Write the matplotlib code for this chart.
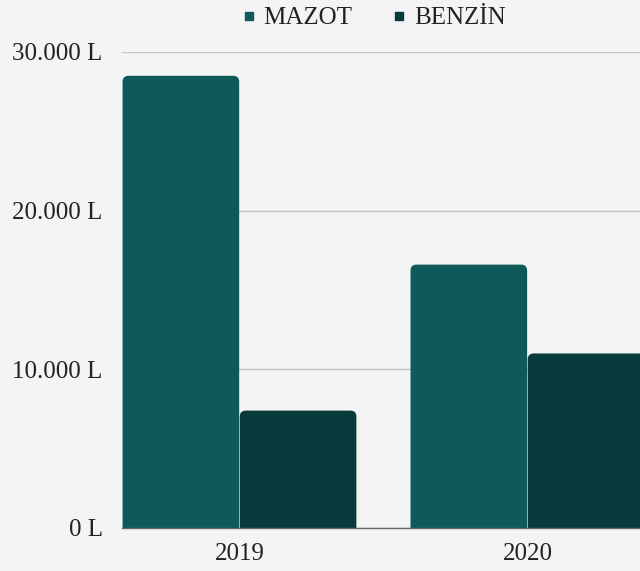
import matplotlib.pyplot as plt
from matplotlib.patches import FancyBboxPatch
from matplotlib.lines import Line2D
from matplotlib.ticker import FuncFormatter
import numpy as np

# yakıt tüketimi (litre)
yillar = ['2019', '2020']
mazot = [28500, 16600]
benzin = [7400, 11000]
seriler = ['MAZOT', 'BENZİN']
renkler = ['#0e5a5a', '#073b3b']
y_ticks = [0, 10000, 20000, 30000]

arka = '#f4f4f4'
yazi = '#222222'
plt.rcParams['font.family'] = ['Liberation Serif', 'DejaVu Serif']

fig = plt.figure(figsize=(6.4, 5.71), dpi=100, facecolor=arka)
ax = fig.add_axes([122 / 640, 1 - 528 / 571, 1 - 122 / 640, (528 - 52) / 571])
ax.set_facecolor(arka)

x = np.arange(len(yillar))
w = 0.405
ax.set_xlim(-0.408, 1.391)
ax.set_ylim(0, 30000)

# köşeleri yuvarlatmak için piksel başına veri oranı
px_x = (1.391 + 0.408) / (640 - 122)
px_y = 30000 / (528 - 52)
yaricap = 6 * px_x
oran = px_y / px_x

for i, (degerler, renk) in enumerate(zip([mazot, benzin], renkler)):
    bars = ax.bar(x + (i - 0.5) * (w + 0.002), degerler, w, color=renk, zorder=3)
    for b in bars:
        bx, by = b.get_x(), b.get_y()
        bw, bh = b.get_width(), b.get_height()
        b.remove()
        ax.add_patch(FancyBboxPatch((bx, by - 2000), bw, bh + 2000,
                                    boxstyle=f"round,pad=0,rounding_size={yaricap}",
                                    mutation_aspect=oran, facecolor=renk,
                                    edgecolor='none', zorder=3))

ax.set_yticks(y_ticks)
ax.yaxis.set_major_formatter(FuncFormatter(lambda v, p: f"{v:,.0f} L".replace(',', '.')))
ax.set_xticks(x)
ax.set_xticklabels(yillar)
ax.tick_params(axis='both', length=0, labelsize=18, colors=yazi)
ax.tick_params(axis='y', pad=14)
ax.tick_params(axis='x', pad=11)

ax.grid(axis='y', color='#c4c4c4', linewidth=1, zorder=0)
ax.grid(axis='x', visible=False)
for s in ['top', 'right', 'left']:
    ax.spines[s].set_visible(False)
ax.spines['bottom'].set_color('#666666')
ax.spines['bottom'].set_linewidth(1)
ax.spines['bottom'].set_zorder(4)

handles = [Line2D([], [], marker='s', linestyle='None', markersize=5.5,
                  color=c) for c in renkler]
fig.legend(handles, seriler, loc='center', bbox_to_anchor=(374 / 640, 1 - 18 / 571),
           ncol=2, frameon=False, fontsize=18, handlelength=0.5,
           handletextpad=0.35, columnspacing=1.6, labelcolor=yazi)

fig.savefig('out.png', dpi=100, facecolor=arka)
